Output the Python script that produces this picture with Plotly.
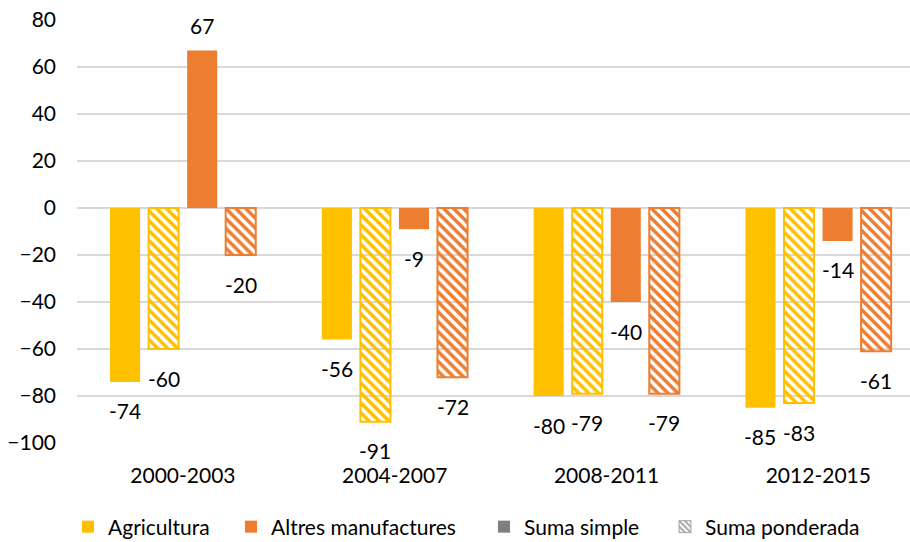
import plotly.graph_objects as go

# Periods and index values per series
periods = ["2000-2003", "2004-2007", "2008-2011", "2012-2015"]
agri_simple = [-74, -56, -80, -85]
agri_ponderada = [-60, -91, -79, -83]
altres_simple = [67, -9, -40, -14]
altres_ponderada = [-20, -72, -79, -61]
y_ticks = [-100, -80, -60, -40, -20, 0, 20, 40, 60, 80]

YELLOW = "#FFC000"
ORANGE = "#ED7D31"
GREY = "#7F7F7F"
GREY_HATCH = "#A5A5A5"
GRID = "#D9D9D9"
FONT = "Lato"
FS = 21

W, H = 910, 542
L, R, T, B = 77, 0, 20, 98.5
CAT_PX = 211.8                      # pixel width of one category
x_lo = -0.5
x_hi = x_lo + (W - L - R) / CAT_PX

SLOT = 0.182                        # spacing between bars in a group (category units)
BAR_W = 0.142                       # bar width (category units)

fig = go.Figure()

series = [
    (agri_simple, YELLOW, False, "Agricultura", "legend"),
    (agri_ponderada, YELLOW, True, "Agricultura (ponderada)", None),
    (altres_simple, ORANGE, False, "Altres manufactures", "legend2"),
    (altres_ponderada, ORANGE, True, "Altres manufactures (ponderada)", None),
]

annotations = []
xs = list(range(len(periods)))
for k, (vals, color, hatched, name, leg) in enumerate(series):
    off = (k - 1.5) * SLOT
    xpos = [i + off for i in xs]
    if hatched:
        marker = dict(color=color, line=dict(color=color, width=2),
                      pattern=dict(shape="\\", fgcolor=color, size=7,
                                   solidity=0.5, fillmode="replace"))
    else:
        marker = dict(color=color, line=dict(width=0))
    fig.add_trace(go.Bar(
        x=xpos, y=vals, width=BAR_W, name=name, marker=marker,
        showlegend=leg is not None, legend=leg or "legend",
        hoverinfo="y",
    ))
    for xp, v in zip(xpos, vals):
        annotations.append(dict(
            x=xp, y=v, xref="x", yref="y", text=str(v), showarrow=False,
            yshift=-29 if v < 0 else 25, yanchor="middle",
            font=dict(family=FONT, size=FS, color="#000000"),
        ))

# Legend-only entries for the two aggregation methods
fig.add_trace(go.Bar(x=[None], y=[None], name="Suma simple",
                     marker=dict(color=GREY, line=dict(width=0)),
                     legend="legend3", showlegend=True))
fig.add_trace(go.Bar(x=[None], y=[None], name="Suma ponderada",
                     marker=dict(color=GREY_HATCH, line=dict(color=GREY_HATCH, width=1),
                                 pattern=dict(shape="\\", fgcolor=GREY_HATCH, size=5,
                                              solidity=0.5, fillmode="replace")),
                     legend="legend4", showlegend=True))


def legend_at(px_x, px_y):
    return dict(
        x=px_x / W, y=1 - px_y / H, xref="container", yref="container",
        xanchor="left", yanchor="middle", orientation="h",
        font=dict(family=FONT, size=FS, color="#000000"),
        bgcolor="rgba(0,0,0,0)", borderwidth=0, itemwidth=30,
        itemclick=False, itemdoubleclick=False,
    )


fig.update_layout(
    width=W, height=H,
    margin=dict(l=L, r=R, t=T, b=B, pad=0),
    paper_bgcolor="white", plot_bgcolor="white",
    barmode="overlay",
    font=dict(family=FONT, size=FS, color="#000000"),
    annotations=annotations,
    legend=legend_at(68, 527),
    legend2=legend_at(231, 527),
    legend3=legend_at(484, 527),
    legend4=legend_at(665, 527),
    xaxis=dict(
        range=[x_lo, x_hi], tickmode="array", tickvals=xs, ticktext=periods,
        showgrid=False, zeroline=False, showline=False, ticks="",
        ticklabelstandoff=18, fixedrange=True,
    ),
    yaxis=dict(
        range=[-100, 80], tickmode="array", tickvals=y_ticks,
        showgrid=True, gridcolor=GRID, gridwidth=1.5,
        zeroline=False, showline=False, ticks="",
        ticklabelstandoff=20, fixedrange=True,
    ),
)

fig.write_html("out.html")
